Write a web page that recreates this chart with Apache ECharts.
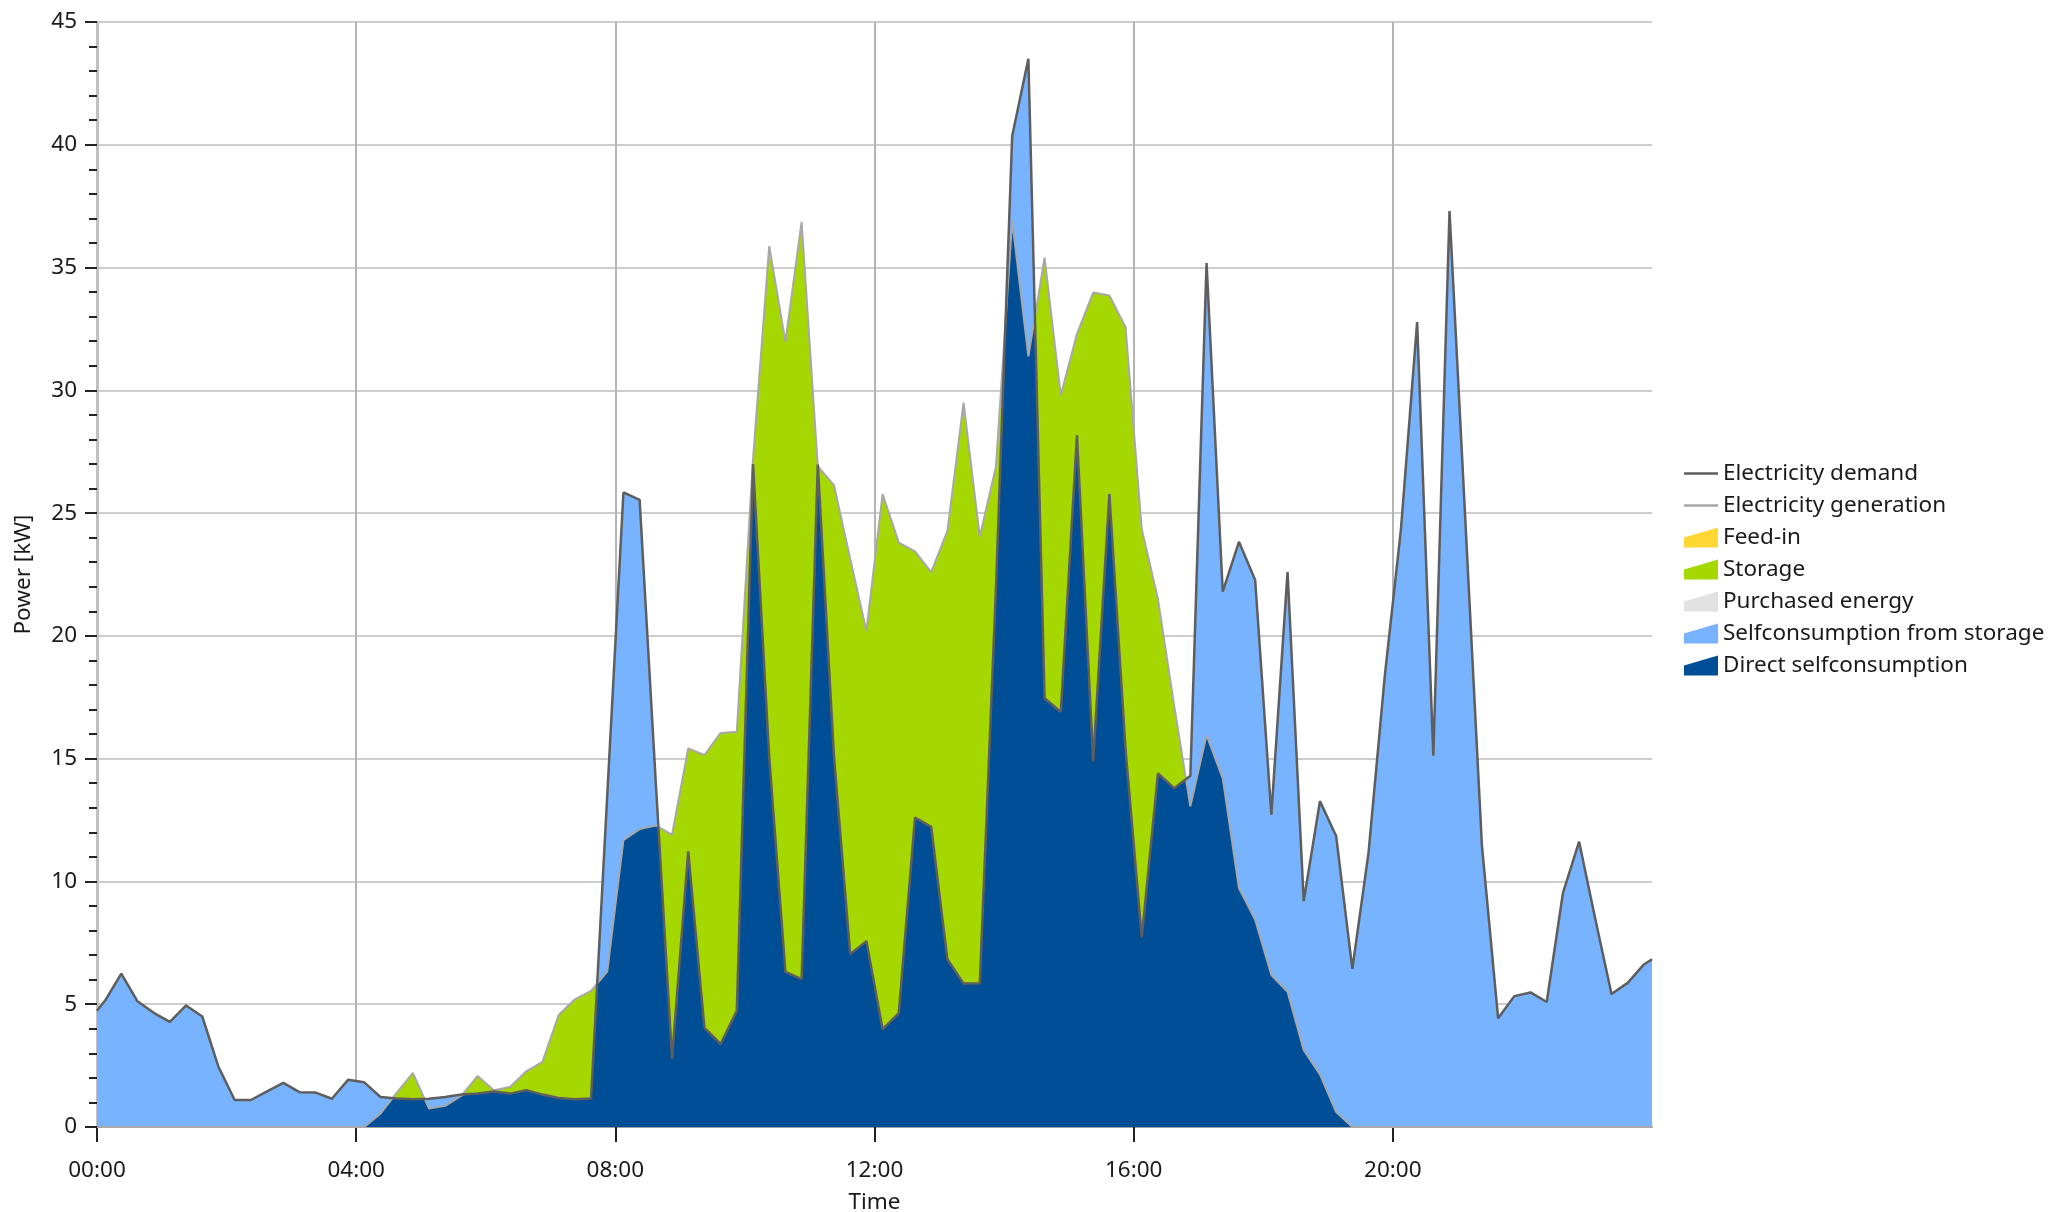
<!DOCTYPE html>
<html>
<head>
<meta charset="utf-8">
<script src="https://cdn.jsdelivr.net/npm/echarts@6/dist/echarts.min.js"></script>
<style>
html,body{margin:0;padding:0;background:#fff;}
#chart{width:2071px;height:1212px;}
</style>
</head>
<body>
<div id="chart"></div>
<script>
// Values (kW) at 00:00, then each 15-min interval centre (00:07:30 ... 23:52:30), then 24:00
const demand = [4.73,
  5.15, 6.25, 5.12, 4.65, 4.28, 4.95, 4.5, 2.45, 1.1, 1.1, 1.45, 1.8,
  1.42, 1.4, 1.15, 1.92, 1.82, 1.22, 1.16, 1.13, 1.15, 1.22, 1.32, 1.36,
  1.45, 1.36, 1.5, 1.32, 1.18, 1.13, 1.16, 13.5, 25.84, 25.54, 14.0, 2.78,
  11.23, 4.04, 3.38, 4.73, 27.0, 15.06, 6.32, 6.02, 26.98, 15.06, 7.04, 7.57,
  3.98, 4.64, 12.6, 12.22, 6.83, 5.84, 5.84, 22.0, 40.36, 43.5, 17.46, 16.9,
  28.17, 14.9, 25.78, 15.36, 7.72, 14.4, 13.8, 14.3, 35.18, 21.8, 23.83, 22.28,
  12.72, 22.6, 9.2, 13.27, 11.85, 6.44, 11.17, 18.35, 24.34, 32.78, 15.12, 37.3,
  24.4, 11.47, 4.43, 5.33, 5.48, 5.09, 9.52, 11.62, 8.47, 5.42, 5.87, 6.62,
  6.83];
const generation = [0,
  0, 0, 0, 0, 0, 0, 0, 0, 0, 0, 0, 0,
  0, 0, 0, 0, 0, 0.54, 1.39, 2.2, 0.75, 0.86, 1.28, 2.08,
  1.5, 1.63, 2.27, 2.65, 4.56, 5.2, 5.54, 6.33, 11.68, 12.13, 12.28, 11.9,
  15.42, 15.15, 16.05, 16.1, 27.2, 35.87, 31.98, 36.86, 26.9, 26.14, 23.14, 20.2,
  25.78, 23.8, 23.44, 22.6, 24.28, 29.5, 24.04, 26.9, 36.92, 31.38, 35.4, 29.8,
  32.3, 33.98, 33.86, 32.57, 24.34, 21.5, 17.16, 13.06, 15.96, 14.2, 9.73, 8.44,
  6.19, 5.51, 3.13, 2.14, 0.61, 0, 0, 0, 0, 0, 0, 0,
  0, 0, 0, 0, 0, 0, 0, 0, 0, 0, 0, 0,
  0];
const feedIn = [];
const purchased = [];
const xTickLabels = ['00:00', '04:00', '08:00', '12:00', '16:00', '20:00', '24:00'];

// time positions in hours
const times = [0];
for (let i = 0; i < 96; i++) times.push(0.125 + 0.25 * i);
times.push(24);

const pair = (arr) => arr.map((v, i) => [times[i], v]);

// direct selfconsumption = overlap of demand and generation (with line crossings)
function overlap(a, b) {
  const out = [];
  for (let i = 0; i < times.length; i++) {
    if (i > 0) {
      const d0 = a[i - 1] - b[i - 1], d1 = a[i] - b[i];
      if (d0 * d1 < 0) {
        const f = d0 / (d0 - d1);
        out.push([times[i - 1] + f * (times[i] - times[i - 1]), a[i - 1] + f * (a[i] - a[i - 1])]);
      }
    }
    out.push([times[i], Math.min(a[i], b[i])]);
  }
  return out;
}

const FONT = 'Noto Sans';
const FS = 22.5;
const C_DEMAND = '#5e5e5e', C_GEN = '#a8a8a8', C_FEED = '#ffd633', C_STOR = '#a5d800',
      C_PURCH = '#e2e2e2', C_SELFSTOR = '#78b3ff', C_DIRECT = '#004e96';
const wedge = 'path://M0,20 L0,10 L34,0 L34,20 Z';
const lineIcon = 'path://M0,0 L34,0 L34,0 Z M0,8.8 L34,8.8 L34,11.2 L0,11.2 Z M0,20 L34,20 L34,20 Z';

const chart = echarts.init(document.getElementById('chart'), null, {renderer: 'canvas'});
chart.setOption({
  animation: false,
  backgroundColor: '#fff',
  textStyle: {fontFamily: FONT},
  grid: {left: 97, right: 419, top: 22, bottom: 85, containLabel: false, outerBoundsMode: 'none'},
  legend: {
    orient: 'vertical', left: 1679, top: 457,
    itemWidth: 34, itemHeight: 20, itemGap: 9,
    textStyle: {fontFamily: FONT, fontSize: FS, color: '#1a1a1a'},
    data: [
      {name: 'Electricity demand', icon: lineIcon},
      {name: 'Electricity generation', icon: lineIcon},
      {name: 'Feed-in', icon: wedge},
      {name: 'Storage', icon: wedge},
      {name: 'Purchased energy', icon: wedge},
      {name: 'Selfconsumption from storage', icon: wedge},
      {name: 'Direct selfconsumption', icon: wedge}
    ]
  },
  xAxis: {
    type: 'value', min: 0, max: 24, interval: 4,
    name: 'Time', nameLocation: 'middle', nameGap: 64,
    nameTextStyle: {fontFamily: FONT, fontSize: FS, color: '#1a1a1a'},
    axisLine: {show: true, onZero: false, lineStyle: {color: '#a0a0a0', width: 2}},
    axisTick: {show: true, length: 15, lineStyle: {color: '#222', width: 2}},
    axisLabel: {margin: 32, fontFamily: FONT, fontSize: FS, color: '#1a1a1a',
      showMaxLabel: false,
      formatter: (v) => xTickLabels[Math.round(v / 4)]},
    splitLine: {show: true, showMinLine: false, showMaxLine: false, lineStyle: {color: '#b4b4b4', width: 2}}
  },
  yAxis: {
    type: 'value', min: 0, max: 45, interval: 5,
    name: 'Power [kW]', nameLocation: 'middle', nameGap: 62, nameRotate: 90,
    nameTextStyle: {fontFamily: FONT, fontSize: FS, color: '#1a1a1a'},
    axisLine: {show: true, lineStyle: {color: '#c0c0c0', width: 3}},
    axisTick: {show: true, length: 12, lineStyle: {color: '#222', width: 2}},
    minorTick: {show: true, splitNumber: 5, length: 8, lineStyle: {color: '#222', width: 2}},
    axisLabel: {margin: 20, fontFamily: FONT, fontSize: FS, color: '#1a1a1a'},
    splitLine: {show: true, lineStyle: {color: '#cdcdcd', width: 2}}
  },
  series: [
    {name: 'Electricity demand', type: 'line', data: pair(demand), symbol: 'none', z: 10,
      color: C_DEMAND, lineStyle: {color: C_DEMAND, width: 2.5}},
    {name: 'Electricity generation', type: 'line', data: pair(generation), symbol: 'none', z: 9,
      color: C_GEN, lineStyle: {color: C_GEN, width: 2}},
    {name: 'Feed-in', type: 'line', data: feedIn, symbol: 'none', color: C_FEED,
      lineStyle: {width: 0}, areaStyle: {color: C_FEED, opacity: 1}},
    {name: 'Storage', type: 'line', data: pair(generation), symbol: 'none', z: 2, color: C_STOR,
      lineStyle: {width: 0}, areaStyle: {color: C_STOR, opacity: 1}},
    {name: 'Purchased energy', type: 'line', data: purchased, symbol: 'none', color: C_PURCH,
      lineStyle: {width: 0}, areaStyle: {color: C_PURCH, opacity: 1}},
    {name: 'Selfconsumption from storage', type: 'line', data: pair(demand), symbol: 'none', z: 3,
      color: C_SELFSTOR, lineStyle: {width: 0}, areaStyle: {color: C_SELFSTOR, opacity: 1}},
    {name: 'Direct selfconsumption', type: 'line', data: overlap(demand, generation), symbol: 'none', z: 4,
      color: C_DIRECT, lineStyle: {width: 0}, areaStyle: {color: C_DIRECT, opacity: 1}}
  ]
});
</script>
</body>
</html>
